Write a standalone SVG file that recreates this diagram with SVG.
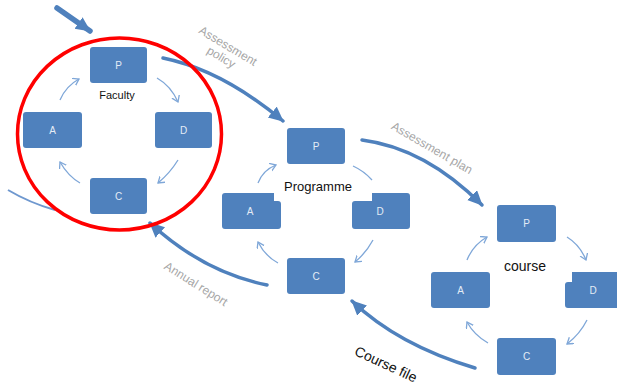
<svg xmlns="http://www.w3.org/2000/svg" width="617" height="385" viewBox="0 0 617 385">
<style>
.box{fill:#4F81BD}
.bt{font-family:"Liberation Sans",Arial,sans-serif;font-size:10px;fill:#E4ECF6;text-anchor:middle}
.lbl{font-family:"Liberation Sans",Arial,sans-serif;fill:#111;text-anchor:middle}
.grey{font-family:"Liberation Sans",Arial,sans-serif;font-size:12px;fill:#A6A6A6;text-anchor:middle}
.sm{fill:none;stroke:#7FA7D8;stroke-width:1.3;marker-end:url(#chev)}
.big{fill:none;stroke:#4F81BD;stroke-linecap:round;marker-end:url(#head)}
</style>
<defs>
<marker id="chev" markerUnits="userSpaceOnUse" markerWidth="10" markerHeight="10" refX="6" refY="4" orient="auto">
<path d="M0,0 L6,4 L0,8" fill="none" stroke="#7FA7D8" stroke-width="1.3"/>
</marker>
<marker id="head" markerUnits="userSpaceOnUse" markerWidth="18" markerHeight="16" refX="14" refY="7" orient="auto">
<path d="M0,0 L15,7 L0,14 Z" fill="#4F81BD"/>
</marker>
</defs>
<rect width="617" height="385" fill="#fff"/>

<g id="connectors">
<path class="big" d="M57,8 L90,31" stroke-width="5.5"/>
<path class="big" d="M163,58 Q222,70 283,121" stroke-width="3.5"/>
<path class="big" d="M362,140 Q425,148 482,205" stroke-width="3.5"/>
<path class="big" d="M267,285 Q203,272 150,223" stroke-width="3.5"/>
<path class="big" d="M475,368 Q398,345 352,301" stroke-width="3.5"/>
<path d="M8,190 Q30,203 55,210" fill="none" stroke="#6F98CF" stroke-width="2"/>
<path class="sm" d="M60,100 Q66,86 79,79"/>
<path class="sm" d="M157,78 Q171,86 178,102"/>
<path class="sm" d="M178,160 Q170,173 158,183"/>
<path class="sm" d="M80,183 Q68,176 60,162"/>
<path class="sm" d="M258,183 Q263,170 276,165"/>
<path d="M353,166 Q364,171 372,180" fill="none" stroke="#7FA7D8" stroke-width="1.3"/>
<path class="sm" d="M373,240 Q366,253 355,262"/>
<path class="sm" d="M278,263 Q265,256 258,242"/>
<path class="sm" d="M467,260 Q473,245 487,237"/>
<path class="sm" d="M567,237 Q580,245 586,260"/>
<path class="sm" d="M587,320 Q580,334 567,344"/>
<path class="sm" d="M488,343 Q474,335 467,322"/>
</g>

<g id="faculty-circle">
<ellipse cx="119.5" cy="134" rx="102" ry="96" fill="none" stroke="#FF0000" stroke-width="3.5"/>
</g>

<g id="fac-P"><rect class="box" x="90" y="47" width="57" height="36" rx="3"/><text class="bt" x="118.5" y="69">P</text></g>
<g id="fac-A"><rect class="box" x="23" y="112" width="59" height="36" rx="3"/><text class="bt" x="52.5" y="134">A</text></g>
<g id="fac-D"><rect class="box" x="155" y="112" width="57" height="36" rx="3"/><text class="bt" x="183.5" y="134">D</text></g>
<g id="fac-C"><rect class="box" x="90" y="178" width="57" height="36" rx="3"/><text class="bt" x="118.5" y="200">C</text></g>
<g id="fac-label"><text class="lbl" x="117" y="99" font-size="11">Faculty</text></g>

<g id="prog-P"><rect class="box" x="287" y="128" width="58" height="36" rx="3"/><text class="bt" x="316" y="150">P</text></g>
<g id="prog-A"><path class="box" d="M225,193 H274 V201 H278 Q281,201 281,204 V226 Q281,229 278,229 H225 Q222,229 222,226 V196 Q222,193 225,193 Z"/><text class="bt" x="250" y="215">A</text></g>
<g id="prog-D"><path class="box" d="M352,204 Q352,201 355,201 H372 V193 H407 Q410,193 410,196 V226 Q410,229 407,229 H355 Q352,229 352,226 Z"/><text class="bt" x="380" y="215">D</text></g>
<g id="prog-C"><rect class="box" x="287" y="258" width="58" height="36" rx="3"/><text class="bt" x="316" y="280">C</text></g>
<g id="prog-label"><text class="lbl" x="318" y="191" font-size="13">Programme</text></g>

<g id="course-P"><rect class="box" x="497" y="205" width="59" height="37" rx="3"/><text class="bt" x="526.5" y="227">P</text></g>
<g id="course-A"><rect class="box" x="431" y="272" width="59" height="36" rx="3"/><text class="bt" x="460.5" y="294">A</text></g>
<g id="course-D"><path class="box" d="M565,285 Q565,282 568,282 H572 V272 H620 V308 H568 Q565,308 565,305 Z"/><text class="bt" x="593" y="294">D</text></g>
<g id="course-C"><rect class="box" x="497" y="338" width="59" height="37" rx="3"/><text class="bt" x="526.5" y="360">C</text></g>
<g id="course-label"><text class="lbl" x="525" y="271" font-size="14">course</text></g>

<g id="labels">
<g transform="translate(228,46) rotate(31)"><text class="grey" x="0" y="4">Assessment</text><text class="grey" x="0" y="17">policy</text></g>
<g transform="translate(432,148) rotate(30)"><text class="grey" x="0" y="4">Assessment plan</text></g>
<g transform="translate(196,284) rotate(32)"><text class="grey" x="0" y="4">Annual report</text></g>
<g transform="translate(386,364) rotate(25)"><text class="lbl" x="0" y="5" font-size="14">Course file</text></g>
</g>
</svg>
